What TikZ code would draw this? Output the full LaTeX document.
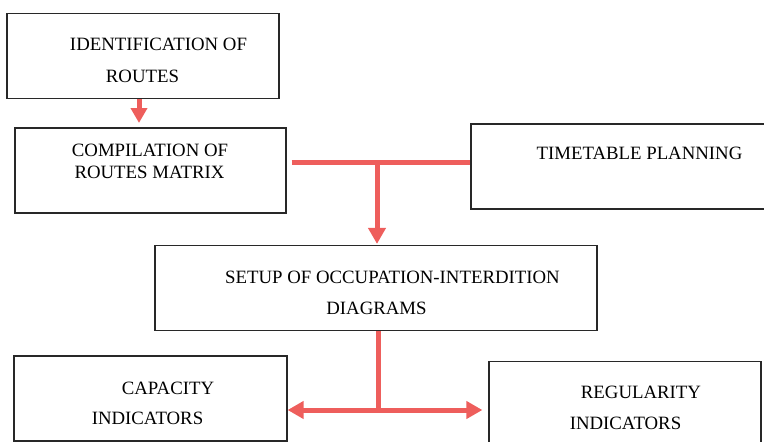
\documentclass[tikz,border=0pt]{standalone}
\usepackage{fontspec}
\setmainfont{Liberation Serif}
\usetikzlibrary{arrows.meta}
\usetikzlibrary{calc}
\definecolor{linkRed}{RGB}{238,94,92}
\definecolor{boxGray}{RGB}{40,40,40}

\begin{document}
\begin{tikzpicture}[x=1pt,y=-1pt,
  box/.style={draw=boxGray, line width=1.2pt, minimum width=#1, minimum height=85pt, inner sep=0pt},
  lbl/.style={anchor=base, inner sep=0pt, font=\fontsize{18.8}{22}\selectfont},
  link/.style={linkRed, line width=5pt},
  headTip/.tip={Triangle[length=16pt,width=17pt]}]
\useasboundingbox (0,0) rectangle (764,442);

% boxes
\node [box=272pt] (ident) at (143,56) {};
\node [box=271pt] (compil) at (150.5,170.5) {};
\node [box=310pt] (timet) at (626,166.5) {};
\node [box=442pt] (setup) at (376,288) {};
\node [box=273pt] (capac) at (150.5,398.5) {};
\node [box=272pt] (regul) at (625,404) {};

% texts
\node [lbl] (identA) at (158.5,50.5) {IDENTIFICATION OF};
\node [lbl] (identB) at (142.5,82) {ROUTES};
\node [lbl] (compilA) at (150,156.7) {COMPILATION OF};
\node [lbl] (compilB) at (149.5,178.3) {ROUTES MATRIX};
\node [lbl] (timetA) at (639.5,159.3) {TIMETABLE PLANNING};
\node [lbl] (setupA) at (392.5,283) {SETUP OF OCCUPATION-INTERDITION};
\node [lbl] (setupB) at (376.5,314) {DIAGRAMS};
\node [lbl] (capacA) at (168,394) {CAPACITY};
\node [lbl] (capacB) at (147.5,424) {INDICATORS};
\node [lbl] (regulA) at (641,398) {REGULARITY};
\node [lbl] (regulB) at (625.5,429) {INDICATORS};

% connectors
\coordinate (j0) at (139,123);
\coordinate (j1) at (377,162);
\coordinate (j2) at (378,410);

\draw [link, -{Triangle[length=15pt,width=16pt]}] (ident.south -| j0) -- (j0);
\draw [link] ([xshift=5pt]compil.east |- j1) -- (timet.west |- j1);
\draw [link, -headTip] (j1) -- ([yshift=1pt]setup.north -| j1);
\draw [link] (setup.south -| j2) -- (j2);
\draw [link, headTip-headTip] (capac.east |- j2) -- ([xshift=-6pt]regul.west |- j2);
\end{tikzpicture}
\end{document}
